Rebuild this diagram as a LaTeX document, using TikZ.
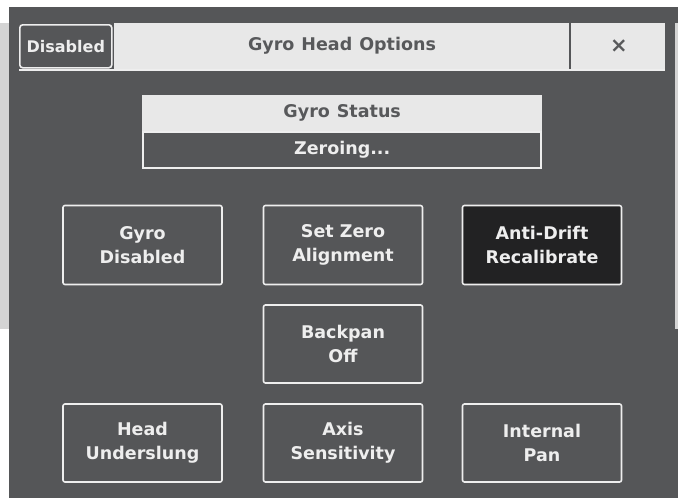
\documentclass[tikz,border=0pt]{standalone}
\usepackage{fontspec}
\setmainfont{DejaVu Sans}
\definecolor{scr}{RGB}{85,86,88}
\definecolor{strip}{RGB}{212,212,212}
\definecolor{lightbox}{RGB}{232,232,232}
\definecolor{lin}{RGB}{238,238,238}
\definecolor{darkfill}{RGB}{34,34,35}
\definecolor{txtdark}{RGB}{88,89,91}
\begin{document}
\begin{tikzpicture}[x=1pt,y=-1pt,
  btnfont/.style={font=\bfseries\fontsize{17.5}{24}\selectfont},
  btn/.style={draw=lin, line width=1.6pt, rounded corners=2pt, text=lin, btnfont, align=center,
    inner sep=0pt, minimum width=159pt, minimum height=79pt},
  barbox/.style={inner sep=0pt, btnfont}]
\useasboundingbox (0,0) rectangle (678,498);
\fill[white] (0,0) rectangle (678,498);
\fill[scr] (9,7) rectangle (678,498);
\fill[strip] (0,23) rectangle (9,329);
\fill[strip] (675,23) rectangle (678,329);
% title bar
\node[barbox, fill=lightbox, minimum width=551pt, minimum height=46pt, anchor=north west] (bar) at (114,23) {};
\node[barbox, text=txtdark] (title) at (342,46) {Gyro\hspace{0.4em}Head\hspace{0.4em}Options};
\node[barbox, text=txtdark, font=\bfseries\fontsize{21}{21}\selectfont] (close) at (619,46) {×};
\draw[scr, line width=1.5pt] (570,23) -- (570,69);
\node[barbox, draw=lin, line width=1.6pt, rounded corners=3pt, fill=scr, text=lin,
  font=\bfseries\fontsize{16}{16}\selectfont,
  minimum width=92pt, minimum height=43pt, anchor=north west] (dis) at (19,24) {Disabled};
\draw[lin, line width=1.2pt] (dis.south west |- 0,70) -- (bar.south east |- 0,70);
% gyro status
\node[barbox, fill=lightbox, text=txtdark, minimum width=400pt, minimum height=36pt, anchor=north west] (st) at (142,95) {Gyro\hspace{0.4em}Status};
\node[barbox, draw=lin, line width=1.6pt, fill=scr, text=lin, minimum width=398pt, minimum height=36pt, anchor=north] (zero) at (st.south) {Zeroing...};
% buttons
\node[btn] (gd) at (142.5,245) {Gyro\\Disabled};
\node[btn] (sz) at (343,245) {Set Zero\\Alignment};
\node[btn, fill=darkfill] (ad) at (542,245) {Anti-Drift\\Recalibrate};
\node[btn, minimum height=78pt] (bp) at (343,344) {Backpan\\Off};
\node[btn, minimum height=78pt] (hu) at (142.5,443) {Head\\Underslung};
\node[btn, minimum height=78pt] (as) at (343,443) {Axis\\Sensitivity};
\node[btn, minimum height=78pt] (ip) at (542,443) {Internal\\Pan};
\end{tikzpicture}
\end{document}
